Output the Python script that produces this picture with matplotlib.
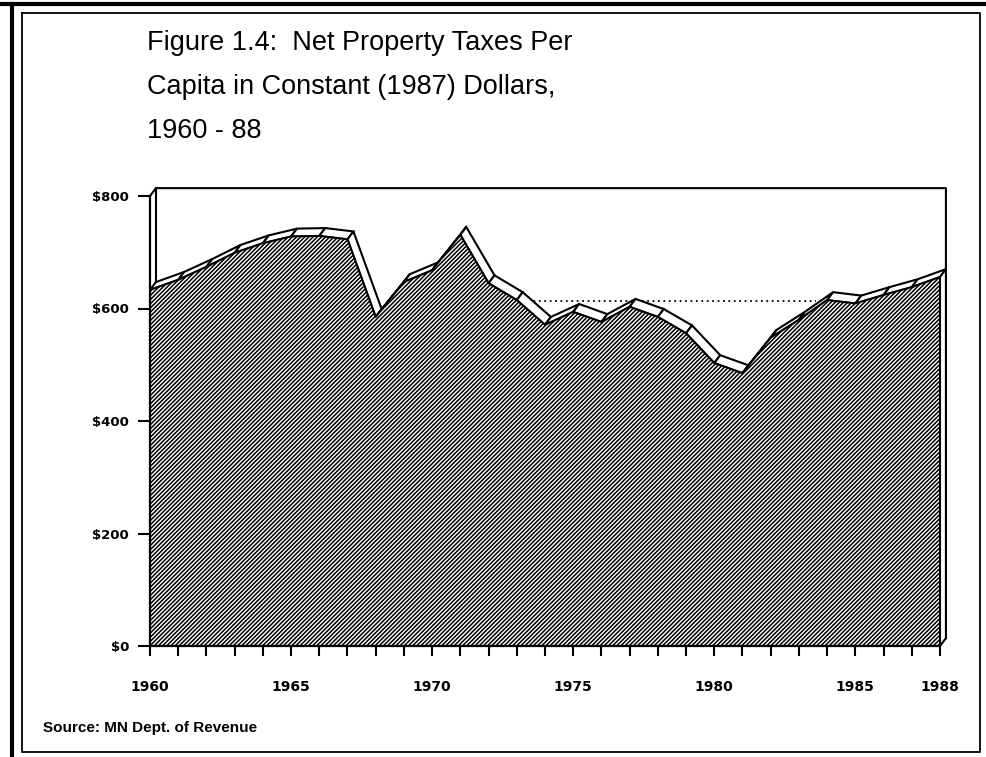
import matplotlib.pyplot as plt
from matplotlib.lines import Line2D
from matplotlib.patches import Polygon

# Net property taxes per capita, constant 1987 dollars
years = list(range(1960, 1989))
taxes = [633, 651, 674, 699, 716, 728, 729, 723, 585, 647,
         668, 731, 645, 615, 571, 594, 576, 603, 585, 556,
         503, 485, 548, 580, 615, 609, 624, 638, 656]
label_years = [1960, 1965, 1970, 1975, 1980, 1985, 1988]
y_ticks = [0, 200, 400, 600, 800]
y_labels = ['$0', '$200', '$400', '$600', '$800']
ref_level = 614
ref_span = (1973.4, 1983.6)

title = "Figure 1.4:  Net Property Taxes Per\nCapita in Constant (1987) Dollars,\n1960 - 88"
source = "Source: MN Dept. of Revenue"

plt.rcParams['hatch.linewidth'] = 1.1

W, H = 987, 757
fig = plt.figure(figsize=(W / 100, H / 100), dpi=100)
ax = fig.add_axes([150 / W, 1 - 646 / H, 790 / W, 450 / H])
ax.set_xlim(1960, 1988)
ax.set_ylim(0, 800)
for s in ax.spines.values():
    s.set_visible(False)

# depth of the pseudo-3d area, in data units
dx, dy = 0.21, 14

# back walls
ax.plot([1960, 1960 + dx, 1988 + dx, 1988 + dx], [800, 800 + dy, 800 + dy, dy],
        color='black', lw=1.5, zorder=1, clip_on=False)
ax.plot([1960 + dx, 1960 + dx], [800 + dy, taxes[0] + dy],
        color='black', lw=1.5, zorder=1, clip_on=False)

ax.hlines(ref_level, *ref_span, colors='black', linestyles=(0, (1, 2)),
          lw=1.3, zorder=2)

# top ribbon of the area
for i in range(len(years) - 1):
    x0, x1 = years[i], years[i + 1]
    v0, v1 = taxes[i], taxes[i + 1]
    ax.add_patch(Polygon([(x0, v0), (x1, v1), (x1 + dx, v1 + dy), (x0 + dx, v0 + dy)],
                         closed=True, fc='white', ec='black', lw=1.5,
                         zorder=3, clip_on=False))

# right end face
ax.add_patch(Polygon([(1988, 0), (1988, taxes[-1]), (1988 + dx, taxes[-1] + dy), (1988 + dx, dy)],
                     closed=True, fc='white', ec='black', lw=1.5, zorder=3, clip_on=False))

# front face
ax.fill_between(years, 0, taxes, facecolor='white', edgecolor='black',
                hatch='////////', lw=1.4, zorder=4)

ax.plot([1960, 1960], [0, 800], color='black', lw=1.6, zorder=5, clip_on=False)
ax.plot([1960, 1988], [0, 0], color='black', lw=1.6, zorder=5, clip_on=False)

ax.set_yticks(y_ticks, y_labels, fontweight='bold', fontsize=9.5)
ax.set_xticks(years, [str(y) if y in label_years else '' for y in years],
              fontweight='bold', fontsize=10)
ax.tick_params(axis='y', length=8.6, width=1.5, pad=6.5)
ax.tick_params(axis='x', length=7.2, width=1.5, pad=17)

fig.text(147 / W, 1 - 30 / H, title, ha='left', va='top', fontsize=19.5,
         family='Liberation Sans', linespacing=1.9)
fig.text(43 / W, 1 - 728 / H, source, ha='left', va='center', fontsize=11,
         fontweight='bold', family='Liberation Sans')

# page border
def fig_line(xs, ys, lw):
    fig.add_artist(Line2D([x / W for x in xs], [1 - y / H for y in ys],
                          color='black', lw=lw))

fig_line([0, W], [4, 4], 3)
fig_line([12, 12], [4, H], 3)
fig_line([22, 980, 980, 22, 22], [13, 13, 752, 752, 13], 1.3)

fig.savefig('out.png', dpi=100)
